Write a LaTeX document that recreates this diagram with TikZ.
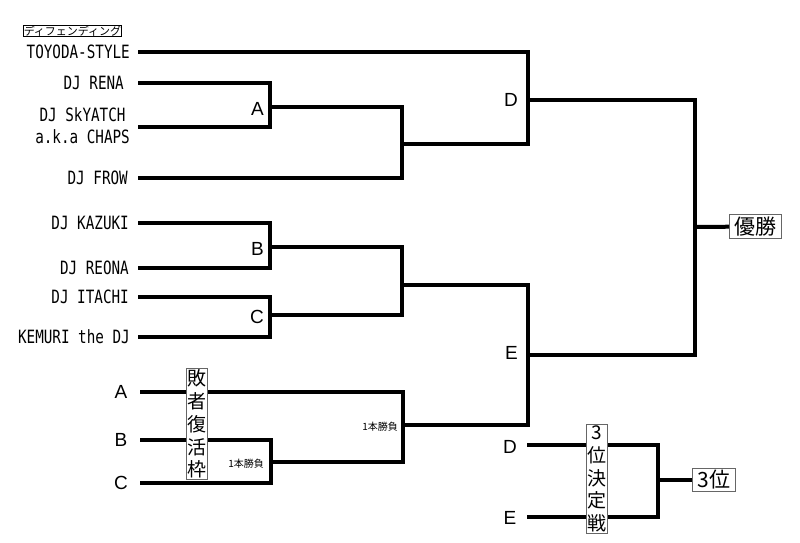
\documentclass[tikz,border=0pt]{standalone}
\usepackage{fontspec}
\newfontfamily\namefont[FakeStretch=0.78]{DejaVu Sans Mono}
\newfontfamily\letterfont{Liberation Sans}
\newfontfamily\jpfont{Noto Sans CJK JP}

\begin{document}
\begin{tikzpicture}[x=1pt,y=-1pt,line join=miter,bracket/.style={line width=4pt},name node/.style={anchor=east,inner sep=0pt,font=\namefont\fontsize{18.3}{22}\selectfont},letter node/.style={inner sep=0pt,font=\letterfont\fontsize{19}{22}\selectfont},note node/.style={anchor=east,inner sep=0pt,font=\jpfont\fontsize{10}{12}\selectfont},box node/.style={draw=black!60,line width=0.8pt,fill=white,inner xsep=5pt,inner ysep=2pt,font=\jpfont\fontsize{21}{24}\selectfont},column node/.style={box node,align=center,inner sep=1pt,font=\jpfont\fontsize{19}{22.8}\selectfont}]
                \useasboundingbox (0,0) rectangle (800,543);

                \node[draw,line width=0.5pt,inner sep=0.5pt,font=\jpfont\fontsize{11}{12}\selectfont] (title) at (72.5,31) {ディフェンディング};

                \node[name node] (toyoda) at (130,52) {TOYODA-STYLE};
                \node[name node] (rena) at (124,83) {DJ RENA};
                \node[name node,align=center] (skyatch) at (130,126) {DJ SkYATCH\\a.k.a CHAPS};
                \node[name node] (frow) at (128,178) {DJ FROW};
                \node[name node] (kazuki) at (129,223) {DJ KAZUKI};
                \node[name node] (reona) at (129,268) {DJ REONA};
                \node[name node] (itachi) at (129,297) {DJ ITACHI};
                \node[name node] (kemuri) at (130,337) {KEMURI the DJ};

                \node[letter node] (la) at (121,392) {A};
                \node[letter node] (lb) at (121,440) {B};
                \node[letter node] (lc) at (121,483) {C};
                \node[letter node] (td) at (510,447) {D};
                \node[letter node] (te) at (510,518) {E};

                % line ends
                \coordinate (p1) at (138,52);
                \coordinate (p2) at (138,83);
                \coordinate (p3) at (138,127);
                \coordinate (p4) at (138,178);
                \coordinate (p5) at (138,223);
                \coordinate (p6) at (138,268);
                \coordinate (p7) at (138,297);
                \coordinate (p8) at (138,337);
                \coordinate (q1) at (140,392);
                \coordinate (q2) at (140,440);
                \coordinate (q3) at (140,483);
                \coordinate (r1) at (527,445);
                \coordinate (r2) at (527,517);

                % joints
                \coordinate (jA) at (270,107);
                \coordinate (jAF) at (402,144);
                \coordinate (jD) at (528,100);
                \coordinate (jB) at (270,247);
                \coordinate (jC) at (270,315);
                \coordinate (jBC) at (402,285);
                \coordinate (jE) at (528,355);
                \coordinate (jW) at (695,227);
                \coordinate (jl) at (271,462);
                \coordinate (jL) at (403,425);
                \coordinate (j3) at (658,480);

                \node[letter node,anchor=east] (ma) at (264,109) {A};
                \node[letter node,anchor=east] (mb) at (264,249) {B};
                \node[letter node,anchor=east] (mc) at (264,317) {C};
                \node[letter node,anchor=east] (md) at (518,100) {D};
                \node[letter node,anchor=east] (me) at (518,353) {E};
                \node[note node] (n1) at (264,464) {1本勝負};
                \node[note node] (n2) at (398,427) {1本勝負};

                \draw[bracket] (p2) -| (jA) |- (p3);
                \draw[bracket] (jA) -| (jAF) |- (p4);
                \draw[bracket] (jAF) -| (jD) |- (p1);
                \draw[bracket] (p5) -| (jB) |- (p6);
                \draw[bracket] (p7) -| (jC) |- (p8);
                \draw[bracket] (jB) -| (jBC) |- (jC);
                \draw[bracket] (jBC) -| (jE) |- (jL);
                \draw[bracket] (q2) -| (jl) |- (q3);
                \draw[bracket] (jl) -| (jL) |- (q1);
                \draw[bracket] (jD) -| (jW) |- (jE);
                \draw[bracket] (r1) -| (j3) |- (r2);

                \node[box node,anchor=west] (win) at (729,226.5) {優勝};
                \node[box node,anchor=west] (third) at (692,480) {3位};
                \draw[bracket] (jW) -- (win);
                \draw[bracket] (j3) -- (third);

                \node[column node] (revival) at (196.5,424) {敗\\者\\復\\活\\枠};
                \node[column node] (playoff) at (597,479) {3\\位\\決\\定\\戦};

            \end{tikzpicture}
\end{document}
